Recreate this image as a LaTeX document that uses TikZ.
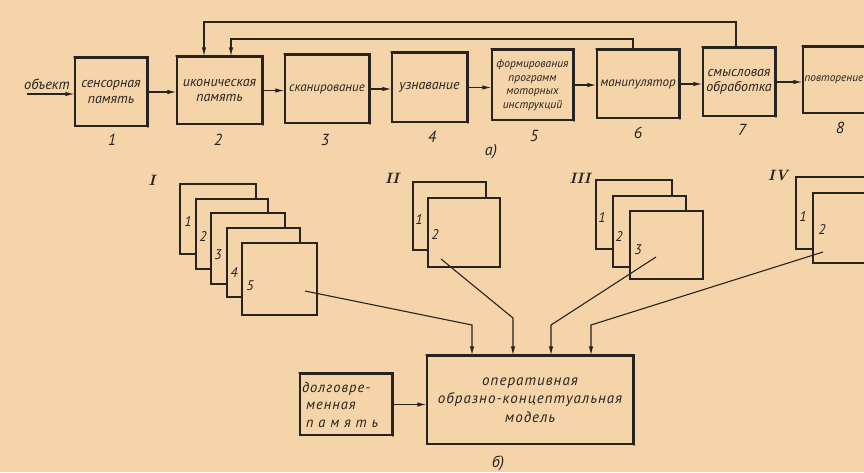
\documentclass[tikz,border=0pt]{standalone}
\usepackage{fontspec}
\newfontfamily\gost{PT Sans}
\newfontfamily\gostsp[LetterSpace=7]{PT Sans}
\usetikzlibrary{arrows.meta}
\definecolor{paper}{HTML}{F4D4A8}
\definecolor{ink}{HTML}{272320}
\tikzset{
  blk/.style={draw=ink, line width=1.4pt, rectangle, inner sep=1pt, align=center, text=ink,
    font=\gost\itshape\fontsize{14}{15.5}\selectfont},
  arr/.style={draw=ink, line width=1.1pt, -{Latex[length=9pt,width=4.5pt]}},
  sheet/.style={draw=ink, line width=1.3pt, fill=paper, rectangle, inner sep=0pt,
    append after command={[draw=ink, line width=1.9pt, line cap=round]
      (\tikzlastnode.north west) -- (\tikzlastnode.north east) -- (\tikzlastnode.south east)}},
  num/.style={text=ink, inner sep=0pt, font=\gost\itshape\fontsize{16}{16}\selectfont},
  snum/.style={text=ink, inner sep=0pt, font=\gost\itshape\fontsize{14}{14}\selectfont},
  roman/.style={text=ink, inner sep=0pt, font=\bfseries\itshape\fontsize{15}{15}\selectfont},
  txt/.style={text=ink, inner sep=0pt, font=\gost\itshape\fontsize{14.5}{15}\selectfont},
}
\begin{document}
\begin{tikzpicture}[x=1pt,y=-1pt]
\useasboundingbox (0,0) rectangle (864,472);
\fill[paper] (0,0) rectangle (864,472);
\clip (0,0) rectangle (864,472);

% ---------- part a ----------
\node[blk, minimum width=72pt, minimum height=68pt] (b1) at (111,92) {сенсорная\\память};
\node[blk, minimum width=85pt, minimum height=67pt] (b2) at (219.5,90.5) {иконическая\\память};
\node[blk, minimum width=84pt, minimum height=68pt, font=\gost\itshape\fontsize{13}{14}\selectfont] (b3) at (327,89) {сканирование};
\node[blk, minimum width=75pt, minimum height=69pt] (b4) at (429.5,87.5) {узнавание};
\node[blk, minimum width=81pt, minimum height=70pt, font=\gost\itshape\fontsize{11.5}{13.5}\selectfont] (b5) at (532.5,85) {формирования\\программ\\моторных\\инструкций};
\node[blk, minimum width=82pt, minimum height=68pt, font=\gost\itshape\fontsize{13}{14}\selectfont] (b6) at (638,84) {манипулятор};
\node[blk, minimum width=72pt, minimum height=68pt] (b7) at (739,82) {смысловая\\обработка};
\node[blk, minimum width=77pt, minimum height=66pt, align=left, text width=74pt, inner sep=1.5pt,
  font=\gost\itshape\fontsize{11.3}{13}\selectfont] (b8) at (841.5,80) {повторение};

\node[txt] (obj) at (47,84) {объект};
\coordinate (objs) at (27,94);
\draw[arr] (objs) -- (objs -| b1.west);
\draw[arr] (b1.east) -- (b1.east -| b2.west);
\draw[arr] (b2.east) -- (b2.east -| b3.west);
\draw[arr] (b3.east) -- (b3.east -| b4.west);
\draw[arr] (b4.east) -- (b4.east -| b5.west);
\draw[arr] (b5.east) -- (b5.east -| b6.west);
\draw[arr] (b6.east) -- (b6.east -| b7.west);
\draw[arr] (b7.east) -- (b7.east -| b8.west);

\coordinate (fbo) at (204,22);
\coordinate (fbi) at (231,39);
\draw[arr] ([xshift=-3pt]b7.north) |- (fbo) -- (fbo |- b2.north);
\draw[arr] ([xshift=-5pt]b6.north) |- (fbi) -- (fbi |- b2.north);

\node[num] (n1) at (112,140) {1};
\node[num] (n2) at (218,140) {2};
\node[num] (n3) at (325,140) {3};
\node[num] (n4) at (432,137) {4};
\node[num] (n5) at (534,136) {5};
\node[num] (n6) at (638,133) {6};
\node[num] (n7) at (742,130) {7};
\node[num] (n8) at (840,128) {8};
\node[num] (capa) at (491,152) {а)};

% ---------- part b : sheets ----------
\node[roman] (rI) at (152,180) {I};
\node[sheet, minimum width=76pt, minimum height=70pt] (s11) at (218,219) {};
\node[sheet, minimum width=72pt, minimum height=70pt] (s12) at (232,234) {};
\node[sheet, minimum width=74pt, minimum height=71pt] (s13) at (248,248.5) {};
\node[sheet, minimum width=73pt, minimum height=69pt] (s14) at (263.5,262.5) {};
\node[sheet, minimum width=75pt, minimum height=72pt] (s15) at (279.5,279) {};
\node[snum] (l11) at (188,222) {1};
\node[snum] (l12) at (203,237) {2};
\node[snum] (l13) at (218,255) {3};
\node[snum] (l14) at (234,273) {4};
\node[snum] (l15) at (250,286) {5};

\node[roman] (rII) at (392,178) {II};
\node[sheet, minimum width=73pt, minimum height=68pt] (s21) at (449.5,216) {};
\node[sheet, minimum width=72pt, minimum height=69pt] (s22) at (464,232.5) {};
\node[snum] (l21) at (419,220) {1};
\node[snum] (l22) at (435,235) {2};

\node[roman] (rIII) at (580,178) {III};
\node[sheet, minimum width=76pt, minimum height=69pt] (s31) at (634,214.5) {};
\node[sheet, minimum width=73pt, minimum height=71pt] (s32) at (649.5,231.5) {};
\node[sheet, minimum width=73pt, minimum height=68pt] (s33) at (666.5,245) {};
\node[snum] (l31) at (602,218) {1};
\node[snum] (l32) at (619,237) {2};
\node[snum] (l33) at (638,250) {3};

\node[roman] (rIV) at (778,175) {IV};
\node[sheet, minimum width=76pt, minimum height=72pt] (s41) at (834,213) {};
\node[sheet, minimum width=74pt, minimum height=70pt] (s42) at (850,228) {};
\node[snum] (l41) at (803,217) {1};
\node[snum] (l42) at (822,230) {2};

% ---------- part b : boxes ----------
\node[blk, minimum width=206pt, minimum height=88pt, font=\gostsp\itshape\fontsize{15}{18.5}\selectfont] (mdl) at (530,400)
  {оперативная\\образно-концептуальная\\модель};
\node[blk, minimum width=92pt, minimum height=61pt, align=left, text width=88pt, inner sep=2pt,
  font=\gostsp\itshape\fontsize{14.5}{17.5}\selectfont] (ltm) at (346,404.5)
  {долговре-\\\hspace*{4pt}менная\\\hspace*{4pt}п\,\,а\,\,м\,\,я\,\,т\,\,ь};
\draw[arr] (ltm.east) -- (ltm.east -| mdl.west);

\coordinate (p1) at (305,291);  \coordinate (k1) at (472,325);
\coordinate (p2) at (441,259);  \coordinate (k2) at (513,318);
\coordinate (p3) at (656,257);  \coordinate (k3) at (551,325);
\coordinate (p4) at (823,252);  \coordinate (k4) at (591,325);
\draw[arr] (p1) -- (k1) -- (k1 |- mdl.north);
\draw[arr] (p2) -- (k2) -- (k2 |- mdl.north);
\draw[arr] (p3) -- (k3) -- (k3 |- mdl.north);
\draw[arr] (p4) -- (k4) -- (k4 |- mdl.north);

\node[num] (capb) at (498,463) {б)};

% heavier top and right edges (shadow look)
\foreach \n in {b1,b2,b3,b4,b5,b6,b7,b8,mdl,ltm}
  \draw[ink, line width=2.2pt, line cap=round] (\n.north west) -- (\n.north east) -- (\n.south east);
\end{tikzpicture}
\end{document}
